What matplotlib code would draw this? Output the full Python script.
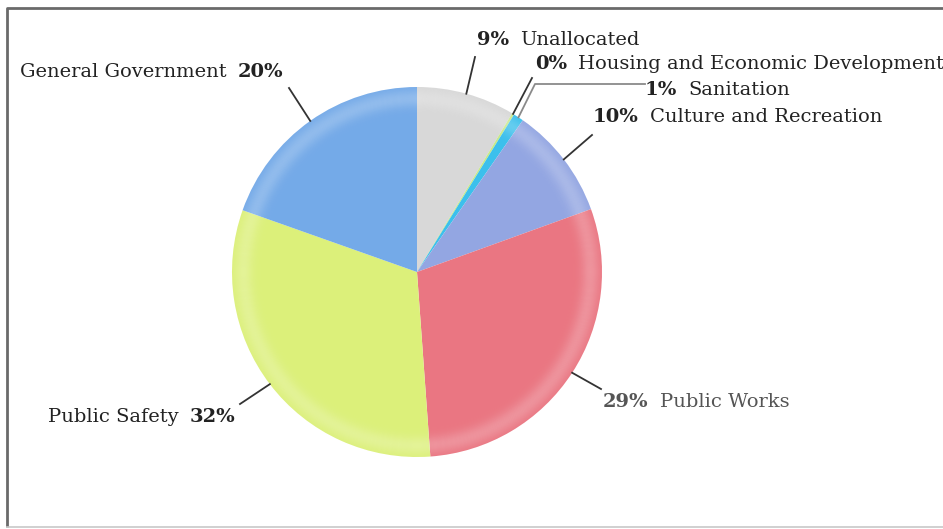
import numpy as np
import matplotlib.pyplot as plt
from matplotlib.patches import Wedge

# Budget shares by function (percent of total)
categories = ['Unallocated', 'Housing and Economic Development', 'Sanitation',
              'Culture and Recreation', 'Public Works', 'Public Safety',
              'General Government']
shares = [8.6, 0.2, 0.9, 9.8, 29.4, 31.6, 19.6]
colors = ['#d8d8d8', '#c8e88a', '#3cc0ec', '#93a6e2', '#ea7682', '#dcf07a', '#74aae8']

W, H = 943, 529
fig = plt.figure(figsize=(W / 100, H / 100), dpi=100)
ax = fig.add_axes([0, 0, 1, 1])

# frame around the chart area
ax.plot([7, 7, W + 5], [2, H - 7.5, H - 7.5], color='#6a6a6a', lw=2, solid_capstyle='butt')
ax.plot([7, W], [2, 2], color='#c8c8c8', lw=1.2)

cx, cy, R = 417, H - 272, 185
wedges, _ = ax.pie(shares, colors=colors, startangle=90, counterclock=False,
                   center=(cx, cy), radius=R, frame=True,
                   wedgeprops=dict(linewidth=0))
ax.set_xlim(0, W)
ax.set_ylim(0, H)
ax.set_aspect('equal')
ax.axis('off')

# soft lighter band near the rim to give the slices a rounded look
for r in np.arange(R - 40, R + 0.01, 1.0):
    a = 0.22 * np.exp(-((r - (R - 11)) / 9.0) ** 2)
    ax.add_patch(Wedge((cx, cy), r, 0, 360, width=1.0,
                       facecolor='white', alpha=a, lw=0))

# leader lines start at each wedge's mid-angle on the rim
mid = {}
for name, w in zip(categories, wedges):
    a = np.deg2rad((w.theta1 + w.theta2) / 2)
    mid[name] = (cx + R * np.cos(a), cy + R * np.sin(a))

def img(x, y):
    return x, H - y

leaders = {
    'Unallocated': [img(475, 57)],
    'Housing and Economic Development': [img(532, 78)],
    'Sanitation': [img(535, 84), img(645, 84)],
    'Culture and Recreation': [img(592, 135)],
    'Public Works': [img(601, 389)],
    'Public Safety': [img(240, 404)],
    'General Government': [img(289, 88)],
}
for name, pts in leaders.items():
    x0, y0 = mid[name]
    xs = [x0] + [p[0] for p in pts]
    ys = [y0] + [p[1] for p in pts]
    col = '#8a8a8a' if name == 'Sanitation' else '#333333'
    ax.plot(xs, ys, color=col, lw=1.3)

# label positions: (x, y, side) side='l' -> percent first, text to the right
label_pos = {
    'Unallocated': (477, 40, 'l'),
    'Housing and Economic Development': (535, 64, 'l'),
    'Sanitation': (645, 90, 'l'),
    'Culture and Recreation': (593, 117, 'l'),
    'Public Works': (603, 402, 'l'),
    'Public Safety': (235, 417, 'r'),
    'General Government': (283, 72, 'r'),
}
font = dict(family='DejaVu Serif', fontsize=14)
for name, v in zip(categories, shares):
    x, y, side = label_pos[name]
    col = '#555555' if name == 'Public Works' else '#222222'
    pct = f'{round(v)}%'
    if side == 'l':
        t = ax.text(x, H - y, pct, ha='left', va='center', color=col,
                    fontweight='bold', **font)
        ax.annotate(name, xy=(1, 0.5), xycoords=t, xytext=(8, 0),
                    textcoords='offset points', ha='left', va='center',
                    color=col, **font)
    else:
        t = ax.text(x, H - y, pct, ha='right', va='center', color=col,
                    fontweight='bold', **font)
        ax.annotate(name, xy=(0, 0.5), xycoords=t, xytext=(-8, 0),
                    textcoords='offset points', ha='right', va='center',
                    color=col, **font)

fig.savefig('out.png', dpi=100, facecolor='white')
